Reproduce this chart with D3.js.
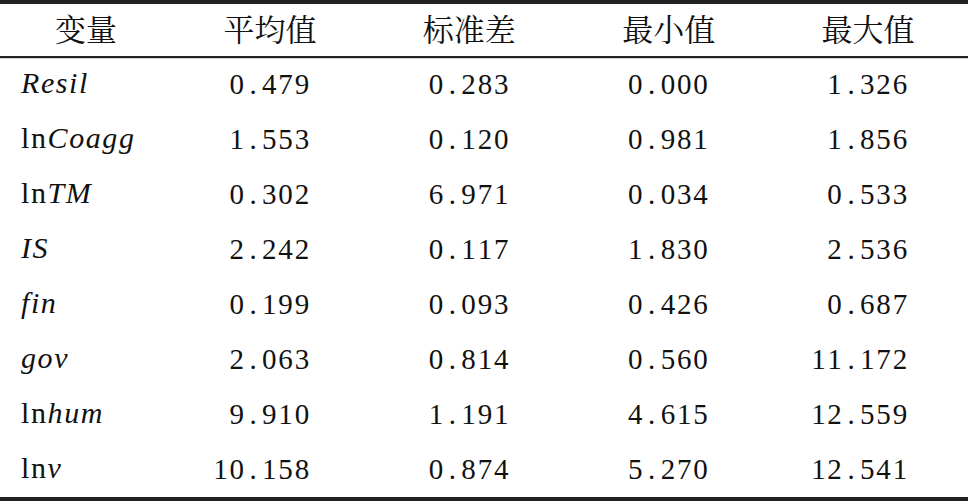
<!DOCTYPE html>
<html><head><meta charset="utf-8">
<script src="https://cdn.jsdelivr.net/npm/d3@7/dist/d3.min.js"></script>
<style>
  svg text.num, svg text.var, svg text.var tspan { font-family: "Liberation Serif" !important; }
  svg text.hdr { font-family: "Noto Serif CJK SC" !important; }
</style>
</head><body style="margin:0">
<script>
// ---- data ----
const headers   = ["变量", "平均值", "标准差", "最小值", "最大值"];
const variables = ["Resil", "lnCoagg", "lnTM", "IS", "fin", "gov", "lnhum", "lnv"];
const means     = ["0.479", "1.553", "0.302", "2.242", "0.199", "2.063", "9.910", "10.158"];
const stds      = ["0.283", "0.120", "6.971", "0.117", "0.093", "0.814", "1.191", "0.874"];
const mins      = ["0.000", "0.981", "0.034", "1.830", "0.426", "0.560", "4.615", "5.270"];
const maxs      = ["1.326", "1.856", "0.533", "2.536", "0.687", "11.172", "12.559", "12.541"];

const W = 968, H = 501;
const ink = "#222";

const svg = d3.select("body").append("svg")
  .attr("width", W).attr("height", H)
  .attr("font-family", "Liberation Serif");

// scales
const statCols = ["mean", "std", "min", "max"];
const xCenter = d3.scalePoint().domain(statCols).range([270, 868]);
const y = d3.scalePoint().domain(variables).range([84, 469]);

// rules
svg.append("rect").attr("x", 0).attr("y", 0).attr("width", W).attr("height", 4).attr("fill", ink);
svg.append("rect").attr("x", 0).attr("y", 56).attr("width", W).attr("height", 2.2).attr("fill", ink);
svg.append("rect").attr("x", 0).attr("y", 497).attr("width", W).attr("height", 4).attr("fill", ink);

// header
const headerX = [86].concat(statCols.map(c => xCenter(c)));
svg.selectAll("text.hdr").data(headers).join("text")
  .attr("class", "hdr")
  .attr("x", (d, i) => headerX[i])
  .attr("y", 41)
  .attr("text-anchor", "middle")
  .attr("font-size", 31)
  .attr("fill", "#111")
  .attr("font-family", "Noto Serif CJK SC")
  .text(d => d);

// variable labels
const lab = svg.selectAll("text.var").data(variables).join("text")
  .attr("class", "var")
  .attr("x", 21)
  .attr("y", d => y(d) + 9)
  .attr("font-size", 30)
  .attr("letter-spacing", 1.6)
  .attr("fill", "#111");
lab.each(function(d) {
  const t = d3.select(this);
  if (d.startsWith("ln")) {
    t.append("tspan").text("ln");
    t.append("tspan").attr("font-style", "italic").text(d.slice(2));
  } else {
    t.append("tspan").attr("font-style", "italic").text(d);
  }
});

// numeric cells: fixed-width characters, right aligned
const adv = 16.3;
const cols = { mean: means, std: stds, min: mins, max: maxs };
statCols.forEach(c => {
  const right = xCenter(c) + 40;
  svg.selectAll("text.n-" + c).data(cols[c]).join("text")
    .attr("class", "num n-" + c)
    .attr("y", (d, i) => y(variables[i]) + 10)
    .attr("x", d => {
      const n = d.length;
      return d.split("").map((ch, k) => (right - adv / 2 - (n - 1 - k) * adv).toFixed(1)).join(" ");
    })
    .attr("text-anchor", "middle")
    .attr("font-size", 29)
    .attr("fill", "#111")
    .text(d => d);
});
</script></body></html>
